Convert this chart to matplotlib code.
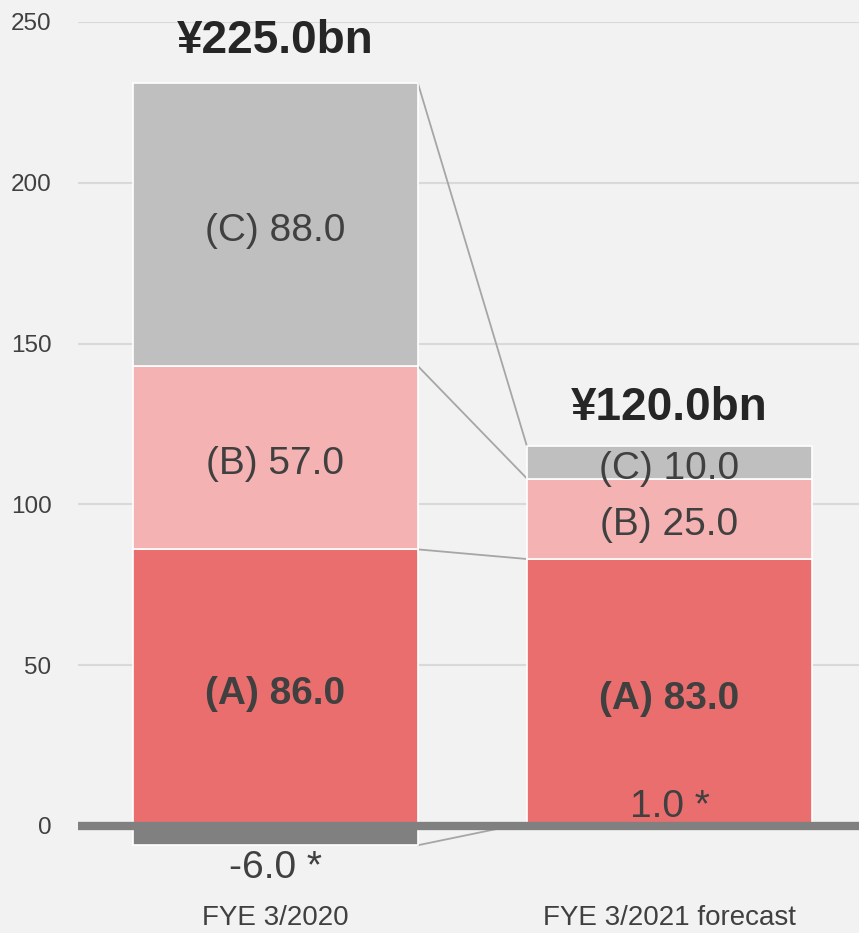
import matplotlib.pyplot as plt

# data
years = ["FYE 3/2020", "FYE 3/2021 forecast"]
other = [-6.0, 1.0]      # "*" items
seg_a = [86.0, 83.0]
seg_b = [57.0, 25.0]
seg_c = [88.0, 10.0]
totals = ["¥225.0bn", "¥120.0bn"]

col_a = "#EB6E6E"
col_b = "#F4B2B2"
col_c = "#BFBFBF"
col_other = "#808080"
bg = "#F2F2F2"

plt.rcParams['font.family'] = ['Liberation Sans', 'DejaVu Sans']

fig = plt.figure(figsize=(8.59, 9.33), dpi=100, facecolor=bg)
ax = fig.add_axes([78 / 859, 1 - 870 / 933, 1 - 78 / 859, (870 - 22) / 933])
ax.set_facecolor(bg)

x = [0, 1]
w = 0.723

# "*" items drawn from zero, A/B/C stacked from zero
ax.bar(x, other, width=w, color=col_other, edgecolor="white", linewidth=1.2, zorder=3)
base_a = [0, 0]
ax.bar(x, seg_a, width=w, bottom=base_a, color=col_a, edgecolor="white", linewidth=1.2, zorder=3)
base_b = [b + a for b, a in zip(base_a, seg_a)]
ax.bar(x, seg_b, width=w, bottom=base_b, color=col_b, edgecolor="white", linewidth=1.2, zorder=3)
base_c = [b + s for b, s in zip(base_b, seg_b)]
ax.bar(x, seg_c, width=w, bottom=base_c, color=col_c, edgecolor="white", linewidth=1.2, zorder=3)
tops = [b + s for b, s in zip(base_c, seg_c)]

# connector lines between bars
levels_left = [tops[0], base_c[0], base_b[0], other[0]]
levels_right = [tops[1], base_c[1], base_b[1], other[1]]
for yl, yr in zip(levels_left, levels_right):
    ax.plot([x[0] + w / 2, x[1] - w / 2], [yl, yr], color="#A6A6A6", lw=1.3, zorder=2)

# zero line
ax.axhline(0, color="#808080", lw=6, zorder=4)

# segment labels
for i in range(2):
    ax.text(x[i], base_c[i] + seg_c[i] / 2 - 2, f"(C) {seg_c[i]:.1f}", ha="center", va="center",
            fontsize=28, color="#404040", zorder=5)
    ax.text(x[i], base_b[i] + seg_b[i] / 2 - 2, f"(B) {seg_b[i]:.1f}", ha="center", va="center",
            fontsize=28, color="#404040", zorder=5)
    ax.text(x[i], base_a[i] + seg_a[i] / 2 - 2, f"(A) {seg_a[i]:.1f}", ha="center", va="center",
            fontsize=28, fontweight="bold", color="#404040", zorder=5)
    ax.text(x[i], tops[i] + 13 - i, totals[i], ha="center", va="center",
            fontsize=33, fontweight="bold", color="#262626", zorder=5)

ax.text(x[0], -13, f"{other[0]:.1f} *", ha="center", va="center", fontsize=28, color="#404040", zorder=5)
ax.text(x[1], 6, f"{other[1]:.1f} *", ha="center", va="center", fontsize=28, color="#404040", zorder=5)

ax.set_xlim(-0.501, 1.481)
ax.set_ylim(-13.7, 250)
ax.set_yticks([0, 50, 100, 150, 200, 250])
ax.set_xticks(x)
ax.set_xticklabels(years)
ax.tick_params(axis="y", length=0, pad=19, labelsize=17.5, labelcolor="#404040")
ax.tick_params(axis="x", length=0, pad=25, labelsize=20, labelcolor="#404040")
ax.grid(axis="y", color="#D9D9D9", lw=1.5, zorder=0)
ax.set_axisbelow(True)
for s in ax.spines.values():
    s.set_visible(False)

fig.savefig("out.png", dpi=100, facecolor=bg)
